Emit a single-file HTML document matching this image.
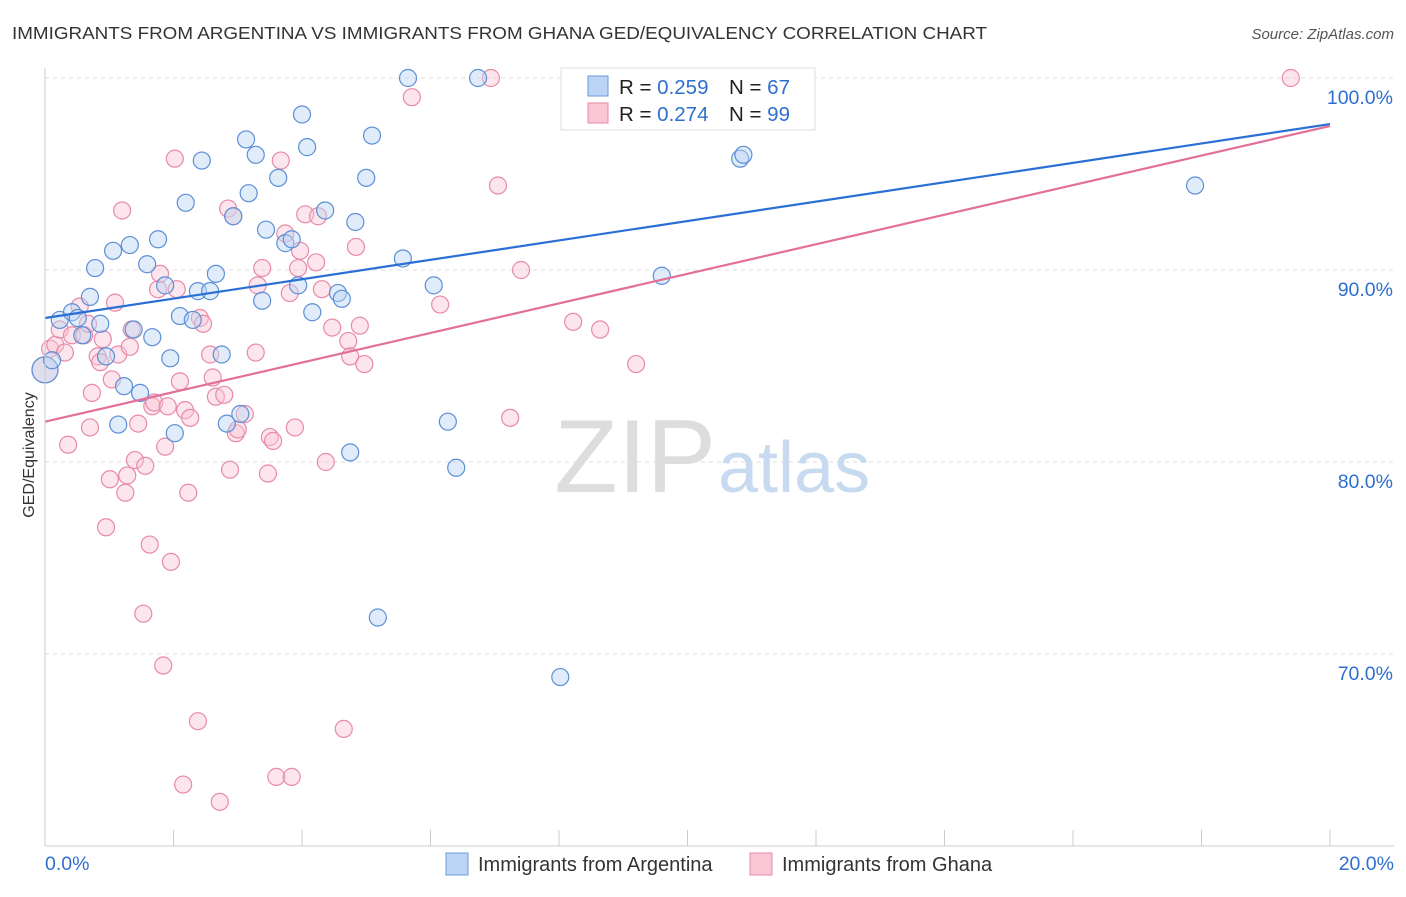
<!DOCTYPE html>
<html><head><meta charset="utf-8"><style>
body{margin:0;background:#fff;font-family:"Liberation Sans",sans-serif}
svg text{font-family:"Liberation Sans",sans-serif}
</style></head><body>
<svg id="chart" width="1406" height="892" xmlns="http://www.w3.org/2000/svg">
<text x="12" y="39" font-size="17.5" fill="#333" textLength="975" lengthAdjust="spacingAndGlyphs">IMMIGRANTS FROM ARGENTINA VS IMMIGRANTS FROM GHANA GED/EQUIVALENCY CORRELATION CHART</text>
<text x="1394" y="39" font-size="15" fill="#555" font-style="italic" text-anchor="end">Source: ZipAtlas.com</text>
<g id="grid"></g>
<text x="716" y="492" font-size="104" font-family="Liberation Serif,serif" fill="#ddd" text-anchor="end">ZIP</text>
<text x="718" y="492" font-size="72" fill="#c8daf0">atlas</text>
<g id="pts"></g>
<g id="axes"></g>
<text transform="translate(34,455) rotate(-90)" font-size="16" fill="#333" text-anchor="middle">GED/Equivalency</text>
<g>
<rect x="561" y="68" width="254" height="62" fill="#fff" stroke="#ddd"/>
<rect x="588" y="76" width="20" height="20" fill="#bcd4f5" stroke="#6b9bd8"/>
<rect x="588" y="103" width="20" height="20" fill="#f9c6d5" stroke="#e88aa8"/>
<text x="619" y="94" font-size="20.5" fill="#222">R = <tspan fill="#2f6fd0">0.259</tspan></text>
<text x="729" y="94" font-size="20.5" fill="#222">N = <tspan fill="#2f6fd0">67</tspan></text>
<text x="619" y="121" font-size="20.5" fill="#222">R = <tspan fill="#2f6fd0">0.274</tspan></text>
<text x="729" y="121" font-size="20.5" fill="#222">N = <tspan fill="#2f6fd0">99</tspan></text>
</g>
<g>
<rect x="446" y="853" width="22" height="22" fill="#bcd4f5" stroke="#6b9bd8"/>
<text x="478" y="871" font-size="20" fill="#333">Immigrants from Argentina</text>
<rect x="750" y="853" width="22" height="22" fill="#f9c6d5" stroke="#e88aa8"/>
<text x="782" y="871" font-size="20" fill="#333">Immigrants from Ghana</text>
</g>
</svg>
<script>
const yTicks=[70,80,90,100];
const xTickLabels=["0.0%","20.0%"];
const blueX=[0,0.11,0.23,0.42,0.51,0.58,0.7,0.78,0.86,0.95,1.06,1.23,1.14,1.32,1.38,1.48,1.59,1.67,1.76,1.87,1.95,2.02,2.1,2.19,2.3,2.38,2.44,2.57,2.66,2.75,2.83,2.93,3.04,3.13,3.17,3.28,3.38,3.44,3.63,3.74,3.84,3.94,4.0,4.08,4.16,4.36,4.56,4.62,4.75,4.83,5.0,5.09,5.18,5.57,5.65,6.05,6.27,6.4,6.74,8.02,8.2,8.95,9.6,10.82,10.87,17.9];
const blueY=[84.8,85.3,87.4,87.8,87.5,86.6,88.6,90.1,87.2,85.5,91.0,83.95,81.95,91.3,86.9,83.6,90.3,86.5,91.6,89.2,85.4,81.5,87.6,93.5,87.4,88.9,95.7,88.9,89.8,85.6,82.0,92.8,82.5,96.8,94.0,96.0,88.4,92.1,94.8,91.4,91.6,89.2,98.1,96.4,87.8,93.1,88.8,88.5,80.5,92.5,94.8,97.0,71.9,90.6,100,89.2,82.1,79.7,100,68.8,100,100,89.7,95.8,96.0,94.4];
const pinkX=[0,0.08,0.16,0.23,0.31,0.36,0.42,0.54,0.61,0.67,0.73,0.7,0.82,0.86,0.9,0.95,1.01,1.04,1.09,1.14,1.2,1.25,1.28,1.32,1.35,1.4,1.45,1.53,1.56,1.63,1.67,1.7,1.76,1.79,1.84,1.87,1.91,1.96,2.02,2.05,2.1,2.15,2.18,2.23,2.26,2.38,2.41,2.46,2.57,2.61,2.66,2.72,2.79,2.85,2.88,2.93,2.97,3.0,3.11,3.28,3.31,3.38,3.47,3.5,3.55,3.6,3.67,3.74,3.81,3.84,3.89,3.94,3.97,4.05,4.22,4.25,4.31,4.37,4.47,4.65,4.72,4.75,4.84,4.9,4.97,5.71,6.15,6.94,7.05,7.24,7.41,8.22,8.64,9.2,19.39];
const pinkY=[84.8,85.9,86.1,86.9,85.7,80.9,86.6,88.1,86.6,87.2,83.6,81.8,85.5,85.2,86.4,76.6,79.1,84.3,88.3,85.6,93.1,78.4,79.3,86.0,86.9,80.1,82.0,72.1,79.8,75.7,82.9,83.1,89.0,89.8,69.4,80.8,82.9,74.8,95.8,89.0,84.2,63.2,82.7,78.4,82.3,66.5,87.5,87.2,85.6,84.4,83.4,62.3,83.5,93.2,79.6,92.8,81.5,81.7,82.5,85.7,89.2,90.1,79.4,81.3,81.1,63.6,95.7,91.9,88.8,63.6,81.8,90.1,91.0,92.9,90.4,92.8,89.0,80.0,87.0,66.1,86.3,85.5,91.2,87.1,85.1,99.0,88.2,100,94.4,82.3,90.0,87.3,86.9,85.1,100];
const blueLine=[87.5,97.6];
const pinkLine=[82.1,97.5];
const NS="http://www.w3.org/2000/svg";
const X0=45,X1=1330,Y100=78,PPY=19.2;
function sx(v){return X0+(X1-X0)*v/20;}
function sy(v){return Y100+(100-v)*PPY;}
function mk(t,a,parent){const e=document.createElementNS(NS,t);for(const k in a)e.setAttribute(k,a[k]);parent.appendChild(e);return e;}
const grid=document.getElementById('grid'),axes=document.getElementById('axes'),pts=document.getElementById('pts');
yTicks.forEach(v=>{
 const l=mk('line',{x1:45,x2:1394,y1:sy(v),y2:sy(v),stroke:'#ddd','stroke-dasharray':'4,4'},grid);
 
 
 const t=mk('text',{x:1393,y:sy(v)+26,'font-size':19.5,fill:'#2f6fd0','text-anchor':'end'},axes);
 t.textContent=v.toFixed(1)+'%';
 
 
});
const ax=mk('line',{x1:45,x2:45,y1:68,y2:846,stroke:'#ccc'},axes);


const bx=mk('line',{x1:45,x2:1394,y1:846,y2:846,stroke:'#ccc'},axes);


for(let i=0;i<=10;i++){
 const tk=mk('line',{x1:sx(i*2),x2:sx(i*2),y1:830,y2:846,stroke:'#ccc'},axes);
 
 
}
[[0,'start',45],[1,'end',1394]].forEach(([i,a,x])=>{
 const t=mk('text',{x:x,y:870,'font-size':19.5,fill:'#2f6fd0','text-anchor':a},axes);
 t.textContent=xTickLabels[i];
 
 
});
function dots(xs,ys,fill,stroke,name){
 xs.forEach((x,i)=>{
  const c=mk('circle',{cx:sx(x),cy:sy(ys[i]),r:(i==0?13:8.5),fill:fill,'fill-opacity':0.45,stroke:stroke,'stroke-width':1.2},pts);
  
  
 });
}
dots(pinkX,pinkY,'#f9c6d5','#e88aa8','ghana-point');
dots(blueX,blueY,'#bcd4f5','#5b8fd6','argentina-point');
const l1=mk('line',{x1:sx(0),y1:sy(blueLine[0]),x2:sx(20),y2:sy(blueLine[1]),stroke:'#2a6fd6','stroke-width':2.2},pts);


const l2=mk('line',{x1:sx(0),y1:sy(pinkLine[0]),x2:sx(20),y2:sy(pinkLine[1]),stroke:'#e2709a','stroke-width':2.2},pts);


</script>
</body></html>
